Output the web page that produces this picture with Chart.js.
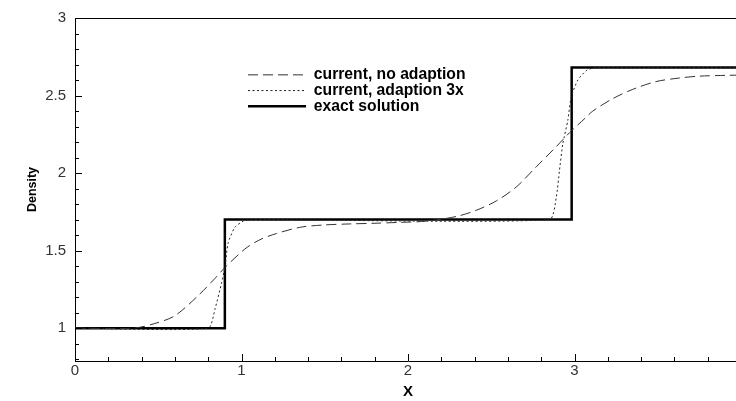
<!DOCTYPE html>
<html><head><meta charset="utf-8">
<script src="https://cdn.jsdelivr.net/npm/chart.js@4/dist/chart.umd.min.js"></script>
<style>html,body{margin:0;padding:0;background:#fff;overflow:hidden}#wrap{width:760px;height:401px}</style>
</head><body><div id="wrap"><canvas id="c" width="760" height="401"></canvas></div>
<script>
const xTickLabels = [0, 1, 2, 3, 4];
const yTickLabels = [1, 1.5, 2, 2.5, 3];
const seriesNames = ['current, no adaption', 'current, adaption 3x', 'exact solution'];

const noAdaptX = [0, 0.35, 0.48, 0.6, 0.74, 0.84, 0.9, 1.02, 1.11, 1.21, 1.35, 1.49, 1.65, 1.79, 1.95, 2.11, 2.29, 2.41, 2.53, 2.65, 2.77, 2.89, 2.97, 3.07, 3.11, 3.23, 3.35, 3.49, 3.63, 3.75, 3.91, 4.0];
const noAdaptY = [1.0, 1.0, 1.03, 1.08, 1.21, 1.32, 1.39, 1.51, 1.57, 1.61, 1.65, 1.665, 1.672, 1.676, 1.682, 1.69, 1.72, 1.76, 1.82, 1.91, 2.04, 2.17, 2.26, 2.36, 2.40, 2.48, 2.54, 2.59, 2.613, 2.625, 2.63, 2.632];

const adapt3xX = [0, 0.8, 0.84, 0.88, 0.9, 0.92, 0.96, 1.01, 1.06, 2.85, 2.89, 2.91, 2.93, 2.96, 2.98, 3.02, 3.07, 3.12, 4.0];
const adapt3xY = [1.0, 1.0, 1.12, 1.29, 1.39, 1.55, 1.65, 1.69, 1.7, 1.7, 1.84, 2.02, 2.19, 2.34, 2.49, 2.6, 2.66, 2.68, 2.68];

const exactX = [0, 0.9, 0.9, 2.983, 2.983, 4.0];
const exactY = [1.0, 1.0, 1.7, 1.7, 2.68, 2.68];

const pts = (xs, ys) => xs.map((x, i) => ({x: x, y: ys[i]}));

const frameTicks = {
  id: 'frameTicks',
  afterLayout(chart) {
    const lg = chart.legend;
    if (lg) { lg.left = 248; lg.right = lg.left + 400; lg.top = 67; }
  },
  afterDraw(chart) {
    const {ctx, chartArea: a, scales: {x, y}} = chart;
    ctx.save();
    ctx.strokeStyle = '#000';
    ctx.lineWidth = 1;
    ctx.beginPath();
    ctx.moveTo(a.left, a.top + 0.5); ctx.lineTo(a.right, a.top + 0.5);
    ctx.moveTo(a.right - 0.5, a.top); ctx.lineTo(a.right - 0.5, a.bottom);
    for (let k = Math.ceil(y.min * 10 - 1e-6); k <= Math.floor(y.max * 10 + 1e-6); k++) {
      const py = Math.round(y.getPixelForValue(k / 10)) + 0.5;
      const len = (k % 5 === 0) ? 7 : 4;
      ctx.moveTo(a.left, py); ctx.lineTo(a.left + len, py);
    }
    for (let k = Math.ceil(x.min * 5 - 1e-6); k <= Math.floor(x.max * 5 + 1e-6); k++) {
      const px = Math.round(x.getPixelForValue(k / 5)) + 0.5;
      const len = (k % 5 === 0) ? 7 : 4;
      ctx.moveTo(px, a.bottom); ctx.lineTo(px, a.bottom - len);
    }
    ctx.stroke();
    ctx.restore();
  }
};

new Chart(document.getElementById('c'), {
  type: 'line',
  data: {
    datasets: [
      {label: seriesNames[0], data: pts(noAdaptX, noAdaptY), borderColor: '#333', borderWidth: 1, borderDash: [10, 5], pointRadius: 0, tension: 0.3, fill: false},
      {label: seriesNames[1], data: pts(adapt3xX, adapt3xY), borderColor: '#222', borderWidth: 1, borderDash: [2, 2.5], pointRadius: 0, tension: 0.2, fill: false},
      {label: seriesNames[2], data: pts(exactX, exactY), borderColor: '#000', borderWidth: 2.5, pointRadius: 0, tension: 0, fill: false}
    ]
  },
  options: {
    responsive: false,
    animation: false,
    devicePixelRatio: 1,
    layout: {padding: {top: 17, right: 19, left: 0, bottom: 0}},
    plugins: {
      legend: {
        position: 'chartArea', align: 'start',
        labels: {
          usePointStyle: true, pointStyle: 'line', pointStyleWidth: 58, padding: 0, color: '#000',
          font: {family: 'Liberation Sans', size: 15.7, weight: 'bold'},
          generateLabels: chart => chart.data.datasets.map((ds, i) => ({
            text: ds.label, fillStyle: 'rgba(0,0,0,0)', strokeStyle: ds.borderColor,
            lineWidth: ds.borderWidth, lineDash: ds.borderDash || [], pointStyle: 'line',
            hidden: false, datasetIndex: i, fontColor: '#000'
          }))
        }
      },
      tooltip: {enabled: false}
    },
    scales: {
      x: {
        type: 'linear', min: 0, max: 4,
        afterBuildTicks: s => { s.ticks = xTickLabels.map(v => ({value: v})); },
        afterFit: s => { s.height = 40; },
        grid: {display: false, drawTicks: false},
        border: {display: true, color: '#000', width: 1},
        ticks: {padding: 1, color: '#333', maxRotation: 0, autoSkip: false, callback: v => String(v), font: {family: 'Liberation Sans', size: 15}},
        title: {display: true, text: 'X', color: '#000', padding: {top: 0, bottom: 0}, font: {family: 'Liberation Sans', size: 15, weight: 'bold'}}
      },
      y: {
        type: 'linear', min: 0.788, max: 3,
        afterBuildTicks: s => { s.ticks = yTickLabels.map(v => ({value: v})); },
        afterFit: s => { s.width = 75; },
        grid: {display: false, drawTicks: false},
        border: {display: true, color: '#000', width: 1},
        ticks: {padding: 9, color: '#333', callback: v => String(v), font: {family: 'Liberation Sans', size: 15}},
        title: {display: true, text: 'Density', color: '#000', padding: {top: 25, bottom: 0}, font: {family: 'Liberation Sans', size: 12.5, weight: 'bold'}}
      }
    }
  },
  plugins: [frameTicks]
});
</script></body></html>
